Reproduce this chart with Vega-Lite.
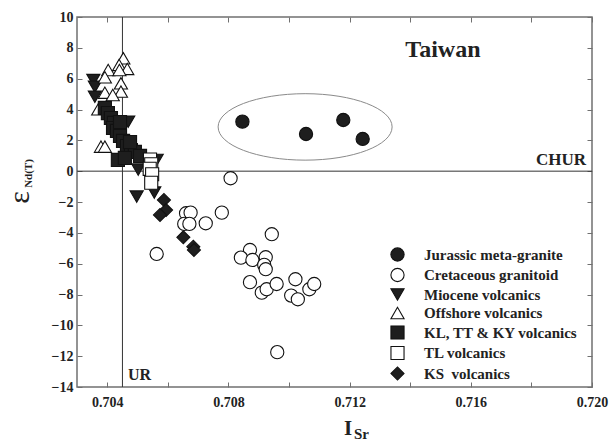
{
  "$schema": "https://vega.github.io/schema/vega-lite/v6.json",
  "width": 515,
  "height": 370,
  "autosize": {"type": "none"},
  "padding": {"left": 77, "top": 17, "right": 17, "bottom": 54},
  "config": {
    "view": {"stroke": "#707070", "strokeWidth": 1.5},
    "axis": {
      "grid": false,
      "domain": false,
      "tickColor": "#707070",
      "tickWidth": 1,
      "tickSize": -5,
      "labelFont": "Liberation Serif",
      "labelFontWeight": "bold",
      "labelFontSize": 14,
      "labelColor": "#222222",
      "titleFont": "Liberation Serif",
      "titleColor": "#222222",
      "labelFlush": false,
      "labelOverlap": false
    },
    "legend": {
      "padding": 0,
      "symbolStrokeWidth": 1.1
    }
  },
  "resolve": {"axis": {"x": "independent", "y": "independent"}},
  "layer": [
    {
      "data": {"values": [{"x": 0.71053, "y": 2.87}]},
      "mark": {
        "type": "point",
        "shape": "M-1,0A1,0.382,0,1,1,1,0A1,0.382,0,1,1,-1,0Z",
        "size": 30276,
        "filled": false,
        "stroke": "#8a8a8a",
        "strokeWidth": 1,
        "opacity": 1
      },
      "encoding": {
        "x": {"field": "x", "type": "quantitative", "scale": {"domain": [0.703, 0.72], "nice": false, "zero": false}, "axis": null},
        "y": {"field": "y", "type": "quantitative", "scale": {"domain": [-14, 10], "nice": false, "zero": false}, "axis": null}
      }
    },
    {
      "data": {"values": [{"x": 0.7045}]},
      "mark": {"type": "rule", "color": "#333333", "strokeWidth": 1},
      "encoding": {
        "x": {
          "field": "x",
          "type": "quantitative",
          "axis": {
            "orient": "top",
            "values": [0.704, 0.706, 0.708, 0.71, 0.712, 0.714, 0.716, 0.718, 0.72],
            "labels": false,
            "title": "Sr",
            "titleX": 284,
            "titleY": 421,
            "titleFontSize": 15,
            "titleFontWeight": "bold",
            "titleAlign": "center",
            "titleBaseline": "alphabetic",
            "titleAngle": 0
          }
        }
      }
    },
    {
      "data": {"values": [{"y": 0}]},
      "mark": {"type": "rule", "color": "#333333", "strokeWidth": 1},
      "encoding": {
        "y": {
          "field": "y",
          "type": "quantitative",
          "axis": {
            "orient": "right",
            "values": [-14, -12, -10, -8, -6, -4, -2, 0, 2, 4, 6, 8, 10],
            "labels": false,
            "title": "Nd(T)",
            "titleX": -564,
            "titleY": 156,
            "titleFontSize": 11,
            "titleFontWeight": "bold",
            "titleAngle": -90,
            "titleAlign": "center",
            "titleBaseline": "middle"
          }
        }
      }
    },
    {
      "data": {"values": [{"label": "Taiwan", "x": 0.71508, "y": 7.41}]},
      "mark": {"type": "text", "font": "Liberation Serif", "fontWeight": "bold", "fontSize": 24, "align": "center", "baseline": "alphabetic", "color": "#222222"},
      "encoding": {
        "x": {"field": "x", "type": "quantitative", "axis": null},
        "y": {"field": "y", "type": "quantitative", "axis": null},
        "text": {"field": "label"}
      }
    },
    {
      "data": {"values": [{"label": "CHUR", "x": 0.7198, "y": 0.4}]},
      "mark": {"type": "text", "font": "Liberation Serif", "fontWeight": "bold", "fontSize": 17, "align": "right", "baseline": "alphabetic", "color": "#222222"},
      "encoding": {
        "x": {"field": "x", "type": "quantitative", "axis": null},
        "y": {"field": "y", "type": "quantitative", "axis": null},
        "text": {"field": "label"}
      }
    },
    {
      "data": {"values": [{"label": "UR", "x": 0.70468, "y": -13.54}]},
      "mark": {"type": "text", "font": "Liberation Serif", "fontWeight": "bold", "fontSize": 16, "align": "left", "baseline": "alphabetic", "color": "#222222"},
      "encoding": {
        "x": {"field": "x", "type": "quantitative", "axis": null},
        "y": {"field": "y", "type": "quantitative", "axis": null},
        "text": {"field": "label"}
      }
    },
    {
      "data": {
        "values": [
          {"g": "Cretaceous granitoid", "x": 0.70807, "y": -0.46},
          {"g": "Cretaceous granitoid", "x": 0.7066, "y": -2.73},
          {"g": "Cretaceous granitoid", "x": 0.70675, "y": -2.69},
          {"g": "Cretaceous granitoid", "x": 0.70654, "y": -3.42},
          {"g": "Cretaceous granitoid", "x": 0.70671, "y": -3.42},
          {"g": "Cretaceous granitoid", "x": 0.70725, "y": -3.38},
          {"g": "Cretaceous granitoid", "x": 0.70778, "y": -2.69},
          {"g": "Cretaceous granitoid", "x": 0.70563, "y": -5.37},
          {"g": "Cretaceous granitoid", "x": 0.70943, "y": -4.09},
          {"g": "Cretaceous granitoid", "x": 0.70871, "y": -5.11},
          {"g": "Cretaceous granitoid", "x": 0.70841, "y": -5.61},
          {"g": "Cretaceous granitoid", "x": 0.70879, "y": -5.76},
          {"g": "Cretaceous granitoid", "x": 0.70923, "y": -5.58},
          {"g": "Cretaceous granitoid", "x": 0.70918, "y": -6.08},
          {"g": "Cretaceous granitoid", "x": 0.70923, "y": -6.36},
          {"g": "Cretaceous granitoid", "x": 0.70871, "y": -7.2},
          {"g": "Cretaceous granitoid", "x": 0.7091, "y": -7.88},
          {"g": "Cretaceous granitoid", "x": 0.70926, "y": -7.66},
          {"g": "Cretaceous granitoid", "x": 0.70959, "y": -7.32},
          {"g": "Cretaceous granitoid", "x": 0.71021, "y": -7.01},
          {"g": "Cretaceous granitoid", "x": 0.71007, "y": -8.07},
          {"g": "Cretaceous granitoid", "x": 0.71029, "y": -8.31},
          {"g": "Cretaceous granitoid", "x": 0.71067, "y": -7.66},
          {"g": "Cretaceous granitoid", "x": 0.71083, "y": -7.32},
          {"g": "Cretaceous granitoid", "x": 0.70961, "y": -11.74},
          {"g": "Jurassic meta-granite", "x": 0.70846, "y": 3.21},
          {"g": "Jurassic meta-granite", "x": 0.71056, "y": 2.41},
          {"g": "Jurassic meta-granite", "x": 0.71179, "y": 3.32},
          {"g": "Jurassic meta-granite", "x": 0.71243, "y": 2.09},
          {"g": "Miocene volcanics", "x": 0.70354, "y": 5.91},
          {"g": "Miocene volcanics", "x": 0.70359, "y": 5.48},
          {"g": "Miocene volcanics", "x": 0.70359, "y": 4.83},
          {"g": "Miocene volcanics", "x": 0.70469, "y": 3.21},
          {"g": "Miocene volcanics", "x": 0.70563, "y": 0.73},
          {"g": "Miocene volcanics", "x": 0.70502, "y": 0.1},
          {"g": "Miocene volcanics", "x": 0.70497, "y": -1.65},
          {"g": "Miocene volcanics", "x": 0.70555, "y": -1.39},
          {"g": "Offshore volcanics", "x": 0.70453, "y": 7.32},
          {"g": "Offshore volcanics", "x": 0.70439, "y": 6.89},
          {"g": "Offshore volcanics", "x": 0.70466, "y": 6.63},
          {"g": "Offshore volcanics", "x": 0.70403, "y": 6.56},
          {"g": "Offshore volcanics", "x": 0.7044, "y": 6.56},
          {"g": "Offshore volcanics", "x": 0.70392, "y": 6.09},
          {"g": "Offshore volcanics", "x": 0.70445, "y": 5.7},
          {"g": "Offshore volcanics", "x": 0.70445, "y": 5.16},
          {"g": "Offshore volcanics", "x": 0.70392, "y": 5.09},
          {"g": "Offshore volcanics", "x": 0.70418, "y": 4.94},
          {"g": "Offshore volcanics", "x": 0.7037, "y": 4.01},
          {"g": "Offshore volcanics", "x": 0.70379, "y": 1.59},
          {"g": "Offshore volcanics", "x": 0.70392, "y": 1.59},
          {"g": "KL, TT & KY volcanics", "x": 0.70392, "y": 4.1},
          {"g": "KL, TT & KY volcanics", "x": 0.70402, "y": 3.77},
          {"g": "KL, TT & KY volcanics", "x": 0.70412, "y": 3.45},
          {"g": "KL, TT & KY volcanics", "x": 0.70422, "y": 3.13},
          {"g": "KL, TT & KY volcanics", "x": 0.70419, "y": 2.8},
          {"g": "KL, TT & KY volcanics", "x": 0.70432, "y": 2.61},
          {"g": "KL, TT & KY volcanics", "x": 0.70442, "y": 2.28},
          {"g": "KL, TT & KY volcanics", "x": 0.70452, "y": 1.96},
          {"g": "KL, TT & KY volcanics", "x": 0.70465, "y": 1.63},
          {"g": "KL, TT & KY volcanics", "x": 0.70478, "y": 1.37},
          {"g": "KL, TT & KY volcanics", "x": 0.70491, "y": 1.25},
          {"g": "KL, TT & KY volcanics", "x": 0.70508, "y": 0.99},
          {"g": "KL, TT & KY volcanics", "x": 0.70435, "y": 0.73},
          {"g": "KL, TT & KY volcanics", "x": 0.70458, "y": 0.86},
          {"g": "KL, TT & KY volcanics", "x": 0.70475, "y": 1.89},
          {"g": "KL, TT & KY volcanics", "x": 0.70442, "y": 3.19},
          {"g": "TL volcanics", "x": 0.70541, "y": 0.75},
          {"g": "TL volcanics", "x": 0.70545, "y": 0.45},
          {"g": "TL volcanics", "x": 0.7054, "y": 0.15},
          {"g": "TL volcanics", "x": 0.70548, "y": -0.2},
          {"g": "TL volcanics", "x": 0.70545, "y": -0.75},
          {"g": "KS\u00a0 volcanics", "x": 0.70587, "y": -1.87},
          {"g": "KS\u00a0 volcanics", "x": 0.70594, "y": -2.52},
          {"g": "KS\u00a0 volcanics", "x": 0.70574, "y": -2.84},
          {"g": "KS\u00a0 volcanics", "x": 0.70651, "y": -4.29},
          {"g": "KS\u00a0 volcanics", "x": 0.70684, "y": -4.9},
          {"g": "KS\u00a0 volcanics", "x": 0.70686, "y": -5.11}
        ]
      },
      "mark": {"type": "point", "filled": true, "opacity": 1, "strokeWidth": 1.1},
      "encoding": {
        "x": {
          "field": "x",
          "type": "quantitative",
          "axis": {
            "orient": "bottom",
            "values": [0.704, 0.706, 0.708, 0.71, 0.712, 0.714, 0.716, 0.718, 0.72],
            "labelExpr": "round(datum.value*1000) % 4 == 0 ? format(datum.value, '.3f') : ''",
            "labelPadding": 13,
            "title": "I",
            "titleX": 270.5,
            "titleY": 47,
            "titleFontSize": 21,
            "titleFontWeight": "bold",
            "titleAlign": "center",
            "titleBaseline": "alphabetic",
            "titleAngle": 0
          }
        },
        "y": {
          "field": "y",
          "type": "quantitative",
          "axis": {
            "orient": "left",
            "values": [-14, -12, -10, -8, -6, -4, -2, 0, 2, 4, 6, 8, 10],
            "labelPadding": 9,
            "title": "ε",
            "titleX": -58,
            "titleY": 180,
            "titleFontSize": 30,
            "titleFontWeight": "normal",
            "titleAngle": -90,
            "titleAlign": "center",
            "titleBaseline": "middle"
          }
        },
        "shape": {
          "field": "g",
          "type": "nominal",
          "scale": {
            "domain": ["Jurassic meta-granite", "Cretaceous granitoid", "Miocene volcanics", "Offshore volcanics", "KL, TT & KY volcanics", "TL volcanics", "KS\u00a0 volcanics"],
            "range": ["circle", "circle", "triangle-down", "triangle-up", "square", "square", "diamond"]
          },
          "legend": {
            "orient": "none",
            "legendX": 313,
            "legendY": 230,
            "title": null,
            "labelFont": "Liberation Serif",
            "labelFontWeight": "bold",
            "labelFontSize": 15,
            "labelColor": "#222222",
            "labelOffset": 19,
            "rowPadding": 1.5
          }
        },
        "fill": {
          "field": "g",
          "type": "nominal",
          "scale": {
            "domain": ["Jurassic meta-granite", "Cretaceous granitoid", "Miocene volcanics", "Offshore volcanics", "KL, TT & KY volcanics", "TL volcanics", "KS\u00a0 volcanics"],
            "range": ["#1e1e1e", "#ffffff", "#1e1e1e", "#ffffff", "#1e1e1e", "#ffffff", "#1e1e1e"]
          }
        },
        "stroke": {
          "field": "g",
          "type": "nominal",
          "scale": {
            "domain": ["Jurassic meta-granite", "Cretaceous granitoid", "Miocene volcanics", "Offshore volcanics", "KL, TT & KY volcanics", "TL volcanics", "KS\u00a0 volcanics"],
            "range": ["#111111", "#111111", "#111111", "#111111", "#111111", "#111111", "#111111"]
          }
        },
        "size": {
          "field": "g",
          "type": "nominal",
          "scale": {
            "domain": ["Jurassic meta-granite", "Cretaceous granitoid", "Miocene volcanics", "Offshore volcanics", "KL, TT & KY volcanics", "TL volcanics", "KS\u00a0 volcanics"],
            "range": [175, 170, 160, 160, 120, 120, 190]
          }
        }
      }
    }
  ]
}
